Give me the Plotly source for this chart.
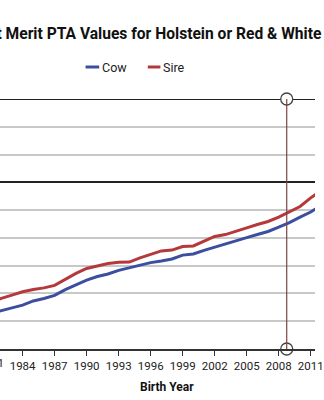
import plotly.graph_objects as go

years = list(range(1981, 2013))
cow = [-472, -461, -452, -442, -427, -418, -407, -386, -370, -352,
       -339, -330, -317, -308, -298, -289, -283, -276, -262, -258,
       -245, -233, -222, -209, -199, -188, -177, -161, -145, -125,
       -107, -82]
sire = [-433, -418, -406, -394, -386, -380, -371, -348, -328, -310,
        -301, -292, -288, -287, -272, -260, -247, -244, -231, -229,
        -211, -195, -188, -175, -164, -152, -141, -125, -107, -87,
        -56, -28]
tick_years = list(range(1981, 2014, 3))
tick_labels = [str(y) for y in tick_years]
event_years = [2008.75]
y_range = [-600, 300]
x_range = [1981.88, 2011.40]

W, H = 324, 400
ML, MR, MT, MB = 0, 0, 99, 51
PH = H - MT - MB


def px_x(p):
    return p / W


def px_y(p):
    return (H - MB - p) / PH


BLUE = "#3b4ea0"
RED = "#b5383b"
FONT = "Roboto"

fig = go.Figure()
fig.add_trace(go.Scatter(x=years, y=cow, mode="lines", name="Cow",
                         line=dict(color=BLUE, width=3), showlegend=False))
fig.add_trace(go.Scatter(x=years, y=sire, mode="lines", name="Sire",
                         line=dict(color=RED, width=3), showlegend=False))

# event line with circles at both ends
for ey in event_years:
    fig.add_shape(type="line", xref="x", yref="y", x0=ey, x1=ey,
                  y0=y_range[0], y1=y_range[1],
                  line=dict(color="#7a4545", width=1.2), layer="above")
fig.add_trace(go.Scatter(
    x=[ey for ey in event_years for _ in range(2)],
    y=[v for _ in event_years for v in y_range],
    mode="markers", cliponaxis=False, showlegend=False,
    marker=dict(size=12, color="white", line=dict(color="#444", width=1.3))))

# top border line
fig.add_shape(type="line", xref="paper", yref="y", x0=0, x1=1,
              y0=y_range[1], y1=y_range[1],
              line=dict(color="#222", width=2), layer="below")

# custom legend
legend_items = [("Cow", BLUE, 88, 102, 103), ("Sire", RED, 152, 165, 166)]
for name, col, a, b, t in legend_items:
    fig.add_shape(type="line", xref="paper", yref="paper",
                  x0=px_x(a), x1=px_x(b), y0=px_y(67), y1=px_y(67),
                  line=dict(color=col, width=3))
    fig.add_annotation(text=name, xref="paper", yref="paper",
                       x=px_x(t), y=px_y(67), xanchor="left", yanchor="middle",
                       showarrow=False, font=dict(family=FONT, size=12.5, color="#222"))

fig.add_annotation(text="<b>Net Merit PTA Values for Holstein or Red & White</b>",
                   xref="paper", yref="paper", x=px_x(333), y=px_y(34),
                   xanchor="right", yanchor="middle", showarrow=False,
                   font=dict(family=FONT, size=15.6, color="#111"))
fig.add_annotation(text="<b>Birth Year</b>", xref="paper", yref="paper",
                   x=px_x(172), y=px_y(387), xanchor="center", yanchor="middle",
                   showarrow=False, font=dict(family=FONT, size=12, color="#111"))
# partially visible first tick label at the cropped left edge
fig.add_annotation(text=tick_labels[0], xref="paper", yref="paper",
                   x=(tick_years[0] - x_range[0]) / (x_range[1] - x_range[0]),
                   y=px_y(363), xanchor="center", yanchor="middle",
                   showarrow=False, font=dict(family=FONT, size=11.5, color="#222"))

fig.update_layout(
    width=W, height=H,
    margin=dict(l=ML, r=MR, t=MT, b=MB, pad=0),
    paper_bgcolor="white", plot_bgcolor="white",
    font=dict(family=FONT, size=11.5, color="#222"),
    showlegend=False,
    xaxis=dict(range=x_range, tickvals=tick_years, ticktext=tick_labels,
               ticks="outside", ticklen=5, tickwidth=1.2, tickcolor="#333",
               showline=True, linecolor="#333", linewidth=2,
               showgrid=False, zeroline=False, ticklabeloverflow="allow",
               tickfont=dict(family=FONT, size=11.5, color="#222")),
    yaxis=dict(range=y_range, dtick=100, showticklabels=False,
               showgrid=True, gridcolor="#c8c8c8", gridwidth=1.5,
               zeroline=True, zerolinecolor="#222", zerolinewidth=2,
               showline=False),
)

fig.write_html("out.html")
